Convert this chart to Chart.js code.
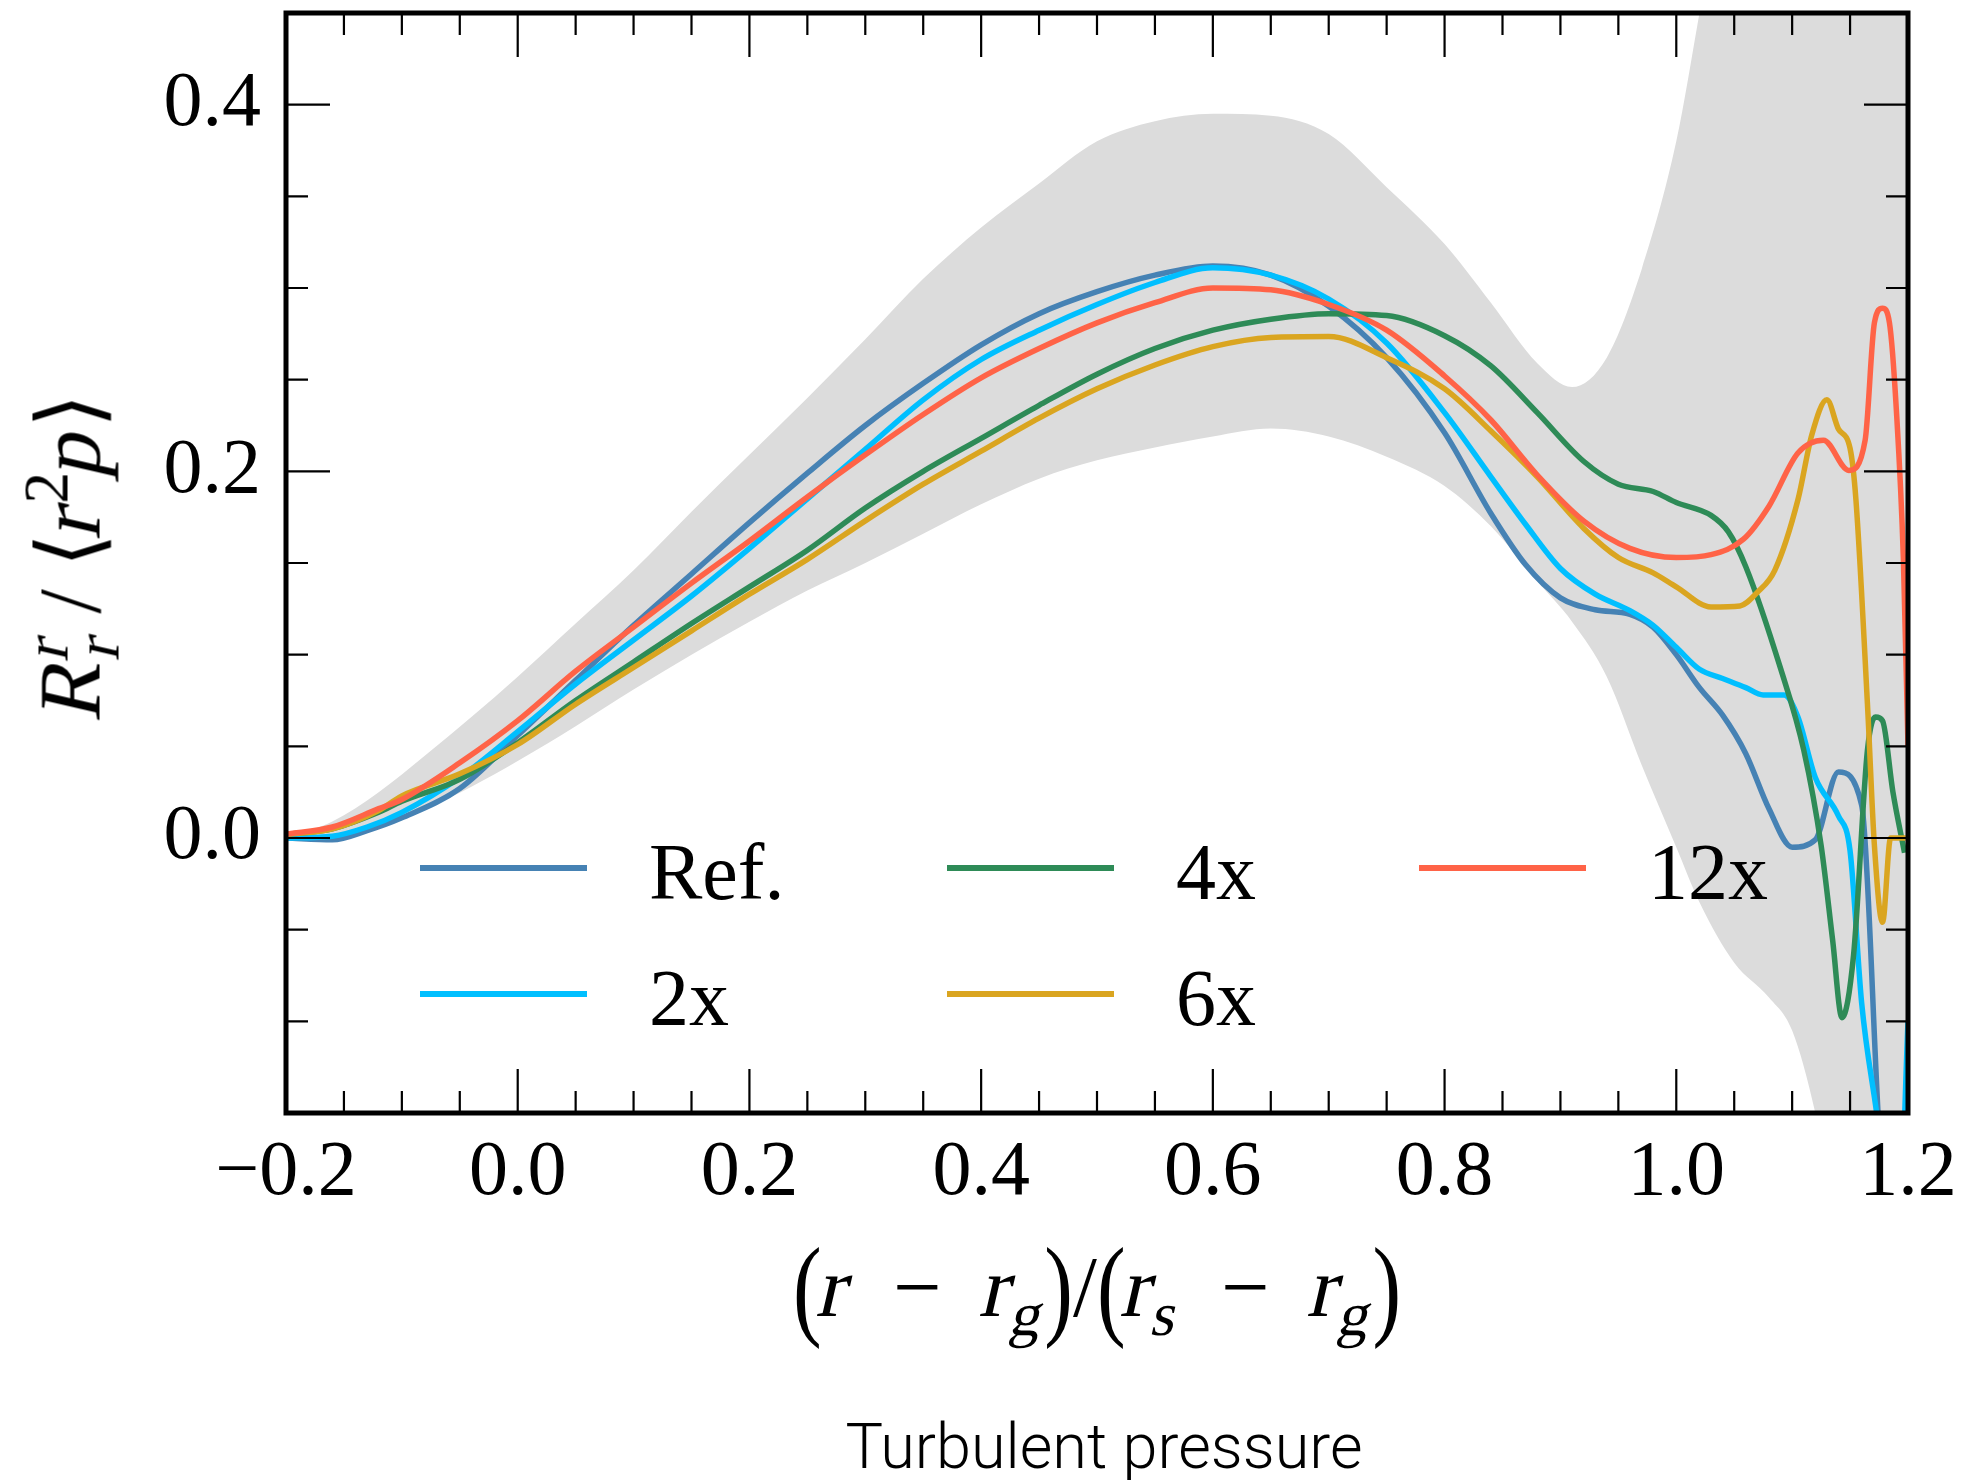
<!DOCTYPE html>
<html>
<head>
<meta charset="utf-8">
<script src="https://cdn.jsdelivr.net/npm/chart.js@4.4.1/dist/chart.umd.min.js"></script>
<style>
  html, body { margin: 0; padding: 0; background: #fff; }
  #wrap { position: relative; width: 1968px; height: 1480px; overflow: hidden; }
  #chart { position: absolute; left: 0; top: 0; }
  .serif { font-family: "Liberation Serif", "DejaVu Serif", serif; color: #000; }
  .math i { font-style: normal; display: inline-block; transform: skewX(-13deg); }
  #ytitle { position: absolute; left: 69px; top: 555px; font-size: 88px; white-space: nowrap;
            transform: translate(-50%, -50%) rotate(-90deg); }
  #xtitle { position: absolute; left: 1097px; top: 1287px; font-size: 86px; white-space: nowrap;
            transform: translate(-50%, -50%); }
  .math sup { font-size: 0.72em; line-height: 0; vertical-align: 0.5em; }
  .math sub { font-size: 0.72em; line-height: 0; vertical-align: -0.3em; }
  .math sub.stk { margin-left: -0.32em; }
  .paren { display: inline-block; transform: scaleY(1.3); font-weight: 300; }
  #caption { position: absolute; left: 1104px; top: 1446px; transform: translate(-50%, -50%);
             font-family: Roboto, "Liberation Sans", sans-serif; font-weight: 300; font-size: 63px;
             white-space: nowrap; color: #000; }
  .leg-line { position: absolute; height: 6px; }
  .leg-text { position: absolute; font-size: 80px; line-height: 1; transform: translateY(-50%); white-space: nowrap; }
</style>
</head>
<body>
<div id="wrap">
  <canvas id="chart" width="1968" height="1480"></canvas>
  <div id="ytitle" class="serif math"><i>R</i><sup><i>r</i></sup><sub class="stk"><i>r</i></sub> / &#10216;<i>r</i><sup>2</sup><i>p</i>&#10217;</div>
  <div id="xtitle" class="serif math"><span class="paren">(</span><i>r</i>&ensp;&minus;&ensp;<i>r</i><sub><i>g</i></sub><span class="paren">)</span>/<span class="paren">(</span><i>r</i><sub><i>s</i></sub>&ensp;&minus;&ensp;<i>r</i><sub><i>g</i></sub><span class="paren">)</span></div>
  <div id="caption">Turbulent pressure</div>
  <div id="legend"></div>
</div>
<script>
// uncertainty band
const bandX    = [-0.2, -0.16, -0.12, -0.08, -0.04, 0.0, 0.05, 0.1, 0.15, 0.2, 0.25, 0.3, 0.35, 0.4, 0.45, 0.5, 0.55, 0.6, 0.65, 0.7, 0.75, 0.8, 0.84, 0.88, 0.91, 0.94, 0.97, 1.0, 1.02, 1.05, 1.08, 1.1, 1.12, 1.15, 1.2];
const bandHigh = [0.0, 0.009, 0.025, 0.045, 0.066, 0.088, 0.117, 0.146, 0.178, 0.209, 0.240, 0.272, 0.305, 0.333, 0.357, 0.380, 0.391, 0.395, 0.394, 0.384, 0.355, 0.324, 0.292, 0.259, 0.246, 0.262, 0.31, 0.38, 0.45, 0.56, 0.70, 0.80, 0.90, 1.0, 1.1];
const bandLow  = [0.0, 0.001, 0.007, 0.016, 0.028, 0.042, 0.061, 0.081, 0.100, 0.118, 0.135, 0.150, 0.166, 0.182, 0.196, 0.206, 0.213, 0.219, 0.2233, 0.219, 0.208, 0.192, 0.170, 0.140, 0.118, 0.088, 0.040, -0.005, -0.035, -0.068, -0.087, -0.105, -0.150, -0.25, -0.35];

// runs
const refX = [-0.2, -0.16, -0.13, -0.1, -0.05, 0.0, 0.05, 0.1, 0.15, 0.2, 0.25, 0.3, 0.35, 0.4, 0.45, 0.5, 0.55, 0.6, 0.65, 0.7, 0.75, 0.8, 0.84, 0.87, 0.9, 0.93, 0.96, 0.98, 1.0, 1.02, 1.04, 1.06, 1.08, 1.1, 1.12, 1.14, 1.16, 1.175, 1.19];
const refY = [0.0, -0.001, 0.004, 0.011, 0.027, 0.056, 0.086, 0.116, 0.144, 0.172, 0.199, 0.225, 0.248, 0.269, 0.286, 0.298, 0.307, 0.312, 0.307, 0.290, 0.262, 0.221, 0.177, 0.149, 0.131, 0.1245, 0.122, 0.115, 0.100, 0.082, 0.067, 0.046, 0.016, -0.005, -0.001, 0.036, 0.018, -0.16, -0.3];

const x2X = [-0.2, -0.16, -0.13, -0.1, -0.05, 0.0, 0.05, 0.1, 0.15, 0.2, 0.25, 0.3, 0.35, 0.4, 0.45, 0.5, 0.55, 0.6, 0.65, 0.7, 0.75, 0.8, 0.84, 0.87, 0.9, 0.93, 0.96, 0.98, 1.0, 1.02, 1.04, 1.06, 1.075, 1.093, 1.105, 1.12, 1.14, 1.15, 1.16, 1.175, 1.19, 1.2];
const x2Y = [0.0, 0.001, 0.006, 0.014, 0.033, 0.058, 0.084, 0.108, 0.132, 0.158, 0.185, 0.212, 0.239, 0.261, 0.277, 0.291, 0.303, 0.311, 0.307, 0.294, 0.270, 0.232, 0.197, 0.171, 0.147, 0.133, 0.124, 0.116, 0.104, 0.092, 0.087, 0.082, 0.078, 0.078, 0.066, 0.033, 0.012, -0.007, -0.09, -0.16, -0.25, -0.1];

const x4X = [-0.2, -0.16, -0.12, -0.1, -0.05, 0.0, 0.05, 0.1, 0.15, 0.2, 0.25, 0.3, 0.35, 0.4, 0.45, 0.5, 0.55, 0.6, 0.65, 0.7, 0.75, 0.8, 0.84, 0.88, 0.92, 0.95, 0.98, 1.0, 1.03, 1.045, 1.06, 1.09, 1.11, 1.125, 1.135, 1.143, 1.153, 1.165, 1.172, 1.178, 1.187, 1.197];
const x4Y = [0.002, 0.005, 0.014, 0.02, 0.032, 0.052, 0.075, 0.096, 0.117, 0.137, 0.157, 0.180, 0.200, 0.218, 0.236, 0.253, 0.267, 0.277, 0.283, 0.286, 0.285, 0.274, 0.2575, 0.232, 0.2055, 0.193, 0.189, 0.183, 0.176, 0.167, 0.148, 0.0925, 0.048, -0.004, -0.056, -0.098, -0.064, 0.048, 0.066, 0.064, 0.025, -0.008];

const x6X = [-0.2, -0.16, -0.12, -0.1, -0.05, 0.0, 0.05, 0.1, 0.15, 0.2, 0.25, 0.3, 0.35, 0.4, 0.45, 0.5, 0.55, 0.6, 0.65, 0.7, 0.75, 0.8, 0.84, 0.88, 0.92, 0.95, 0.98, 1.0, 1.03, 1.055, 1.07, 1.085, 1.105, 1.117, 1.13, 1.14, 1.15, 1.155, 1.165, 1.171, 1.178, 1.185, 1.198];
const x6Y = [0.002, 0.005, 0.015, 0.023, 0.035, 0.051, 0.073, 0.093, 0.113, 0.133, 0.152, 0.173, 0.193, 0.211, 0.229, 0.245, 0.258, 0.268, 0.273, 0.2735, 0.262, 0.245, 0.222, 0.197, 0.169, 0.153, 0.1446, 0.137, 0.126, 0.1266, 0.134, 0.146, 0.1845, 0.22, 0.239, 0.223, 0.2125, 0.185, 0.073, -0.004, -0.046, 0.0, 0.0];

const x12X = [-0.2, -0.16, -0.12, -0.1, -0.05, 0.0, 0.05, 0.1, 0.15, 0.2, 0.25, 0.3, 0.35, 0.4, 0.45, 0.5, 0.55, 0.6, 0.65, 0.7, 0.75, 0.8, 0.84, 0.88, 0.92, 0.96, 1.0, 1.03, 1.058, 1.08, 1.105, 1.127, 1.149, 1.163, 1.171, 1.178, 1.184, 1.19, 1.196, 1.2];
const x12Y = [0.002, 0.006, 0.016, 0.021, 0.041, 0.064, 0.091, 0.115, 0.139, 0.162, 0.186, 0.209, 0.231, 0.251, 0.267, 0.281, 0.292, 0.300, 0.299, 0.291, 0.277, 0.252, 0.228, 0.198, 0.173, 0.158, 0.153, 0.1546, 0.163, 0.181, 0.21, 0.217, 0.2005, 0.217, 0.281, 0.289, 0.281, 0.233, 0.1525, 0.05];

const seriesNames = ['Ref.', '2x', '4x', '6x', '12x'];
const seriesX = [refX, x2X, x4X, x6X, x12X];
const seriesY = [refY, x2Y, x4Y, x6Y, x12Y];
const xTicks = [-0.2, 0.0, 0.2, 0.4, 0.6, 0.8, 1.0, 1.2];
const yTicks = [0.0, 0.2, 0.4];

const colors = ['#4682b4', '#00bfff', '#2e8b57', '#daa520', '#ff6347'];
const toPts = (xs, ys) => xs.map((x, i) => ({ x: x, y: ys[i] }));
const fmt = v => (v < 0 ? '\u2212' : '') + Math.abs(v).toFixed(1);

const datasets = [
    { data: toPts(bandX, bandHigh), borderWidth: 0, pointRadius: 0, fill: false, order: 10, cubicInterpolationMode: 'monotone' },
    { data: toPts(bandX, bandLow), borderWidth: 0, pointRadius: 0, fill: '-1', backgroundColor: '#dcdcdc', order: 10, cubicInterpolationMode: 'monotone' }
];
seriesNames.forEach((name, i) => {
    datasets.push({
        label: name,
        data: toPts(seriesX[i], seriesY[i]),
        borderColor: colors[i],
        borderWidth: 5.5,
        pointRadius: 0,
        fill: false,
        cubicInterpolationMode: 'monotone',
        order: 5 - i
    });
});

// inward ticks on all four sides plus the frame
const framePlugin = {
    id: 'frame',
    afterDraw(chart) {
        const { ctx, chartArea: a, scales: { x, y } } = chart;
        ctx.save();
        ctx.strokeStyle = '#000';
        ctx.lineWidth = 2.2;
        ctx.beginPath();
        for (let i = 0; i <= 28; i++) {
            const px = x.getPixelForValue(-0.2 + i * 0.05);
            const len = i % 4 === 0 ? 44 : 22;
            ctx.moveTo(px, a.bottom); ctx.lineTo(px, a.bottom - len);
            ctx.moveTo(px, a.top); ctx.lineTo(px, a.top + len);
        }
        for (let i = 0; i <= 12; i++) {
            const py = y.getPixelForValue(-0.15 + i * 0.05);
            const len = (i - 3) % 4 === 0 ? 44 : 22;
            ctx.moveTo(a.left, py); ctx.lineTo(a.left + len, py);
            ctx.moveTo(a.right, py); ctx.lineTo(a.right - len, py);
        }
        ctx.stroke();
        ctx.lineWidth = 5;
        ctx.strokeRect(a.left, a.top, a.right - a.left, a.bottom - a.top);
        ctx.restore();
    }
};

const tickFont = { family: '"Liberation Serif", "DejaVu Serif", serif', size: 78 };

new Chart(document.getElementById('chart').getContext('2d'), {
    type: 'line',
    data: { datasets: datasets },
    options: {
        responsive: false,
        animation: false,
        devicePixelRatio: 1,
        layout: { padding: { top: 13, right: 60, left: 0, bottom: 0 } },
        elements: { line: { tension: 0 } },
        datasets: { line: { clip: 0 } },
        plugins: { legend: { display: false }, tooltip: { enabled: false } },
        scales: {
            x: {
                type: 'linear', min: -0.2, max: 1.2,
                grid: { display: false, drawTicks: false },
                border: { display: false },
                afterBuildTicks: s => { s.ticks = xTicks.map(v => ({ value: v })); },
                afterFit: s => { s.height = 367; s.paddingLeft = 0; s.paddingRight = 0; },
                ticks: { color: '#000', font: tickFont, padding: 14, maxRotation: 0, callback: v => fmt(v) }
            },
            y: {
                type: 'linear', min: -0.15, max: 0.45,
                grid: { display: false, drawTicks: false },
                border: { display: false },
                afterBuildTicks: s => { s.ticks = yTicks.map(v => ({ value: v })); },
                afterFit: s => { s.width = 286; s.paddingTop = 0; s.paddingBottom = 0; },
                ticks: { color: '#000', font: tickFont, padding: 25, callback: v => fmt(v) }
            }
        }
    },
    plugins: [framePlugin]
});

// legend, three columns filled column by column
const legend = document.getElementById('legend');
const colLineX = [420, 947, 1419];
const rowY = [868, 994];
seriesNames.forEach((name, i) => {
    const col = Math.floor(i / 2), row = i % 2;
    const line = document.createElement('div');
    line.className = 'leg-line';
    line.style.left = colLineX[col] + 'px';
    line.style.width = '167px';
    line.style.top = (rowY[row] - 3) + 'px';
    line.style.background = colors[i];
    legend.appendChild(line);
    const txt = document.createElement('div');
    txt.className = 'leg-text serif';
    txt.style.left = (colLineX[col] + 229) + 'px';
    txt.style.top = (rowY[row] + 4) + 'px';
    txt.textContent = name;
    legend.appendChild(txt);
});
</script>
</body>
</html>
